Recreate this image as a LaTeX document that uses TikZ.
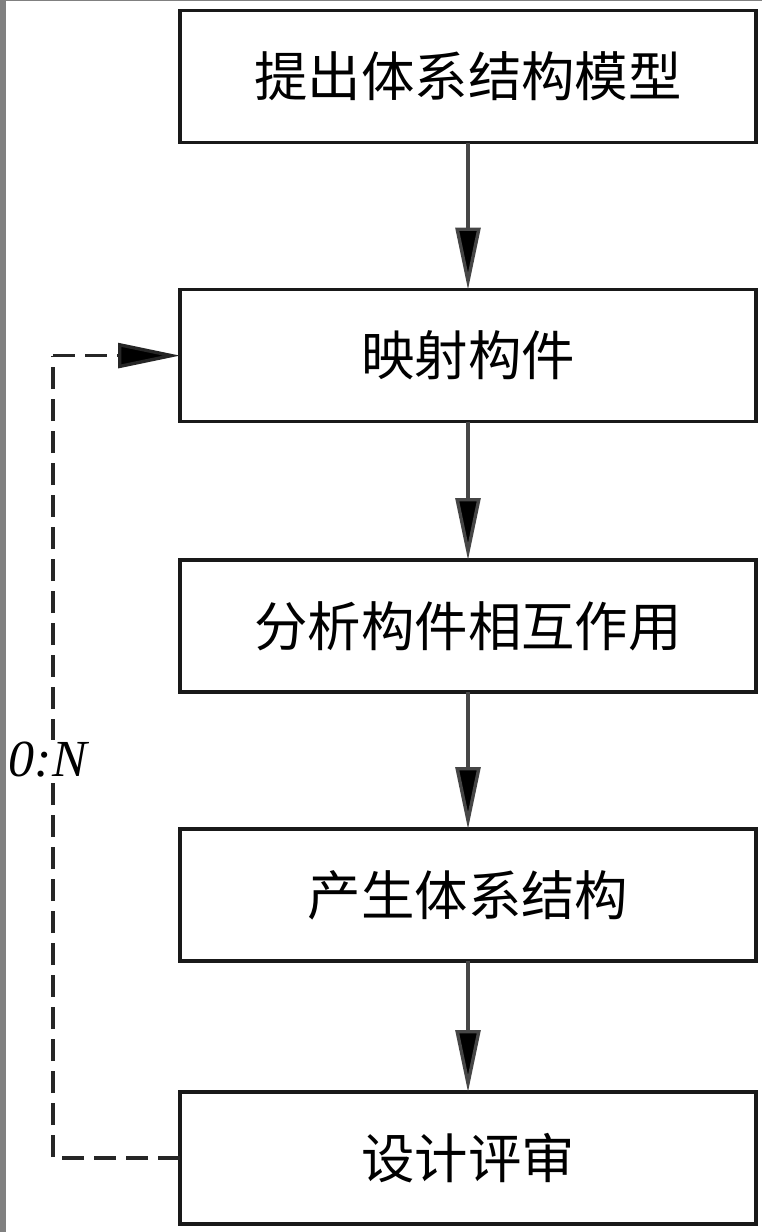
\documentclass[tikz,border=0pt]{standalone}
\usepackage{fontspec}
\setmainfont{Liberation Serif}
\newfontfamily\cjk{Noto Sans CJK SC}
\usetikzlibrary{positioning, arrows.meta}
\definecolor{FrameGray}{RGB}{128,128,128}
\definecolor{ShaftGray}{RGB}{70,70,70}

\begin{document}
\begin{tikzpicture}[
          stepbox/.style={rectangle, draw=black!90, line width=2.6pt, inner sep=0pt,
                          outer sep=0pt, minimum width=14.4cm, minimum height=3.3cm,
                          font=\cjk\fontsize{38}{44}\selectfont},
          flow/.style={draw=ShaftGray, line width=2.4pt,
                       -{Triangle[length=1.55cm, width=0.62cm, fill=black]}},
          backline/.style={draw=black!85, line width=2.6pt,
                           dash pattern=on 0.55cm off 0.25cm}
        ]
        \useasboundingbox (0,0) rectangle (19.05,-30.8);
        % Frame
        \fill[FrameGray] (0,0) rectangle (0.14,-30.8);
        \fill[FrameGray] (0,0) rectangle (19.05,-0.03);

        % Steps
        \node[stepbox] (model) at (11.7,-1.915) {提出体系结构模型};
        \node[stepbox, below=3.675cm of model] (mapping) {映射构件};
        \node[stepbox, below=3.46cm of mapping] (interact) {分析构件相互作用};
        \node[stepbox, below=3.425cm of interact] (generate) {产生体系结构};
        \node[stepbox, below=3.275cm of generate] (review) {设计评审};

        % Arrows
        \draw[flow] (model) -- (mapping);
        \draw[flow] (mapping) -- (interact);
        \draw[flow] (interact) -- (generate);
        \draw[flow] (generate) -- (review);

        % Feedback
        \coordinate (bend) at (1.325,0);
        \draw[backline] (review.west) -- (review.west -| bend)
              -- (mapping.west -| bend);
        \draw[flow, draw=black!85, dash pattern=on 0.55cm off 0.25cm]
              (mapping.west -| bend) -- (mapping.west);
        \node[font=\itshape\fontsize{37}{42}\selectfont, fill=white, inner sep=2pt]
              (count) at (1.2,-19.0) {0:N};
      \end{tikzpicture}
\end{document}
